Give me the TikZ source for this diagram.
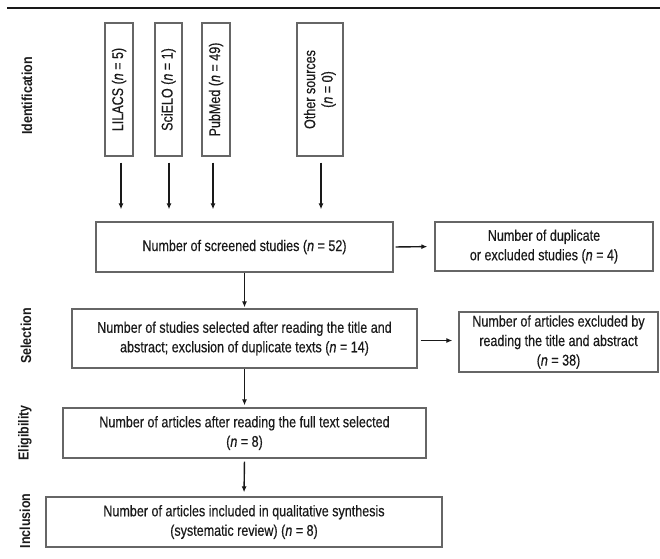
\documentclass[tikz,border=0pt]{standalone}
\usepackage{fontspec}
\usepackage{graphicx}
\setmainfont{Liberation Sans}[FakeStretch=0.81, FakeBold=0.4]
\newfontfamily\phasefont{Liberation Sans}[FakeStretch=0.86]
\usetikzlibrary{arrows.meta}
\definecolor{boxgray}{HTML}{666666}
\definecolor{txt}{HTML}{1A1A1A}
\begin{document}
\begin{tikzpicture}[x=1pt,y=-1pt,
  box/.style={draw=boxgray, line width=1.3pt, inner sep=0pt, align=center, text=txt,
    font=\fontsize{15.5}{19.5}\selectfont},
  phase/.style={rotate=90, font=\fontsize{14.5}{17}\selectfont\phasefont\bfseries, text=txt},
  arr/.style={draw=black!90, line width=1.4pt, -{Latex[length=6pt,width=5pt]}}]
\useasboundingbox (0,0) rectangle (660,558);
\draw[line width=1.6pt, black!90] (7,8) -- (660,8);
% phase labels
\node[phase] (lid) at (27,96) {Identification};
\node[phase] (lsel) at (26,336) {Selection};
\node[phase] (lel) at (25,433) {Eligibility};
\node[phase] (linc) at (25,521) {Inclusion};
% source boxes
\node[box, minimum width=28pt, minimum height=133pt] (lil) at (119,89.5) {\rotatebox{90}{LILACS (\textit{n} = 5)}};
\node[box, minimum width=27pt, minimum height=133pt] (sci) at (168.5,89.5) {\rotatebox{90}{SciELO (\textit{n} = 1)}};
\node[box, minimum width=28pt, minimum height=133pt] (pub) at (216,89.5) {\rotatebox{90}{PubMed (\textit{n} = 49)}};
\node[box, minimum width=46pt, minimum height=133pt] (oth) at (320,89.5) {\rotatebox{90}{\begin{tabular}{@{}c@{}}Other sources\\[-2pt](\textit{n} = 0)\end{tabular}}};
% main boxes
\node[box, minimum width=297pt, minimum height=50pt] (scr) at (244.5,247) {Number of screened studies (\textit{n} = 52)};
\node[box, minimum width=218pt, minimum height=49pt] (dup) at (544,246.5) {Number of duplicate\\or excluded studies (\textit{n} = 4)};
\node[box, minimum width=345pt, minimum height=59pt] (sel) at (244.5,338.5) {Number of studies selected after reading the title and\\abstract; exclusion of duplicate texts (\textit{n} = 14)};
\node[box, minimum width=199pt, minimum height=60pt] (exc) at (558.5,342) {Number of articles excluded by\\reading the title and abstract\\(\textit{n} = 38)};
\node[box, minimum width=363pt, minimum height=50pt] (eli) at (244.5,433) {Number of articles after reading the full text selected\\(\textit{n} = 8)};
\node[box, minimum width=396pt, minimum height=50pt] (inc) at (244,522) {Number of articles included in qualitative synthesis\\(systematic review) (\textit{n} = 8)};
% arrows
\draw[arr, shorten <=6pt, shorten >=12pt] ([xshift=2pt]lil.south) -- ([xshift=2pt]lil.south |- scr.north);
\draw[arr, shorten <=6pt, shorten >=12pt] ([xshift=0.5pt]sci.south) -- ([xshift=0.5pt]sci.south |- scr.north);
\draw[arr, shorten <=6pt, shorten >=12pt] ([xshift=-3pt]pub.south) -- ([xshift=-3pt]pub.south |- scr.north);
\draw[arr, shorten <=6pt, shorten >=12pt] ([xshift=1pt]oth.south) -- ([xshift=1pt]oth.south |- scr.north);
\draw[arr, shorten >=1pt] (scr.south) -- (sel.north);
\draw[arr, shorten <=2pt, shorten >=7pt] (scr.east) -- (dup.west);
\draw[arr, shorten <=3pt, shorten >=6pt] ([yshift=-2pt]sel.east) -- ([yshift=-2pt]sel.east -| exc.west);
\draw[arr, shorten >=2pt] (sel.south) -- (eli.north);
\draw[arr, shorten <=3pt, shorten >=4pt] (eli.south) -- (inc.north);
\end{tikzpicture}
\end{document}
